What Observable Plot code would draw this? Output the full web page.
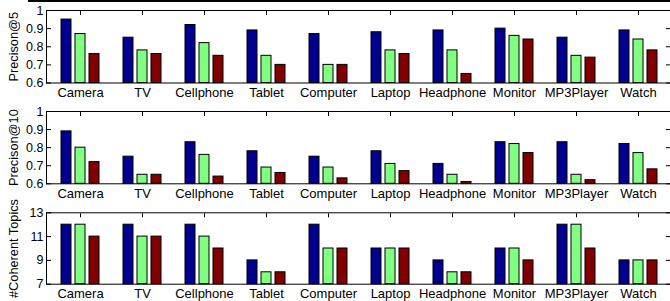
<!DOCTYPE html>
<html><head><meta charset="utf-8">
<script src="https://cdn.jsdelivr.net/npm/d3@7"></script>
<script src="https://cdn.jsdelivr.net/npm/@observablehq/plot@0.6"></script>
<style>
html,body{margin:0;padding:0;background:#fff;overflow:hidden;width:670px;height:301px}
#topline{position:absolute;left:28px;top:0;width:642px;height:2px;background:#000}
#chart{position:absolute;left:0;top:0;width:671px}
#chart svg{display:block;overflow:visible;background:none}
</style></head><body>
<div id="chart"></div><div id="topline"></div>
<script>
const categories = ["Camera","TV","Cellphone","Tablet","Computer","Laptop","Headphone","Monitor","MP3Player","Watch"];
const series = ["Method 1","Method 2","Method 3"];
const colors = ["#00008F","#80FF80","#800000"];

// Precision@5
const p5_m1 = [0.95,0.85,0.92,0.89,0.87,0.88,0.89,0.90,0.85,0.89];
const p5_m2 = [0.87,0.78,0.82,0.75,0.70,0.78,0.78,0.86,0.75,0.84];
const p5_m3 = [0.76,0.76,0.75,0.70,0.70,0.76,0.65,0.84,0.74,0.78];
// Precision@10
const p10_m1 = [0.89,0.75,0.83,0.78,0.75,0.78,0.71,0.83,0.83,0.82];
const p10_m2 = [0.80,0.65,0.76,0.69,0.69,0.71,0.65,0.82,0.65,0.77];
const p10_m3 = [0.72,0.65,0.64,0.66,0.63,0.67,0.61,0.77,0.62,0.68];
// #Coherent Topics
const ct_m1 = [12,12,12,9,12,10,9,10,12,9];
const ct_m2 = [12,11,11,8,10,10,8,10,12,9];
const ct_m3 = [11,11,10,8,10,10,8,9,10,9];

const precTicks = [0.6,0.7,0.8,0.9,1];
const precTickLabels = ["0.6","0.7","0.8","0.9","1"];
const topicTicks = [7,9,11,13];
const topicTickLabels = ["7","9","11","13"];

function panel({values, yDomain, ticks, tickLabels, yLabel, height, marginTop, marginBottom}) {
  const rows = [];
  series.forEach((s, si) => categories.forEach((c, ci) => rows.push({category: c, series: s, si, value: values[si][ci]})));
  const offsets = [-14, 0, 14];
  const fmt = d => tickLabels[ticks.indexOf(d)];
  return Plot.plot({
    width: 671, height, marginLeft: 46, marginRight: 0, marginTop, marginBottom,
    style: {fontFamily: "'Liberation Sans', Arial, sans-serif", fontSize: "12.5px", color: "#000", background: "none", overflow: "visible"},
    x: {domain: categories, padding: 0, axis: null},
    y: {domain: yDomain, axis: null},
    marks: [
      ...series.map((s, si) => Plot.barY(rows.filter(r => r.si === si), {
        x: "category", y1: yDomain[0], y2: "value", fill: colors[si],
        stroke: "black", strokeWidth: 1, dx: offsets[si], insetLeft: 26, insetRight: 26
      })),
      Plot.axisX({anchor: "bottom", tickSize: 0, tickPadding: 5, label: null, fontSize: 13}),
      Plot.axisX({anchor: "top", tickSize: -4, tickFormat: () => "", label: null}),
      Plot.axisY(ticks, {anchor: "left", tickSize: 0, tickPadding: 3, tickFormat: fmt, label: null, fontSize: 12.5}),
      Plot.axisY(ticks, {anchor: "left", tickSize: -5, tickFormat: () => "", label: null}),
      Plot.axisY(ticks, {anchor: "right", tickSize: -6, tickFormat: () => "", label: null}),
      Plot.text([yLabel], {frameAnchor: "left", rotate: -90, dx: -33, fontSize: 12.75, textAnchor: "middle", lineAnchor: "middle", fill: "black"}),
      Plot.frame({stroke: "black"})
    ]
  });
}

const chart = document.getElementById("chart");
chart.append(panel({values: [p5_m1, p5_m2, p5_m3], yDomain: [0.6, 1], ticks: precTicks, tickLabels: precTickLabels, yLabel: "Precison@5", height: 100, marginTop: 10, marginBottom: 17.5}));
chart.append(panel({values: [p10_m1, p10_m2, p10_m3], yDomain: [0.6, 1], ticks: precTicks, tickLabels: precTickLabels, yLabel: "Precison@10", height: 101, marginTop: 11, marginBottom: 17.7}));
chart.append(panel({values: [ct_m1, ct_m2, ct_m3], yDomain: [7, 13], ticks: topicTicks, tickLabels: topicTickLabels, yLabel: "#Coherent Topics", height: 100, marginTop: 11.3, marginBottom: 17.3}));
</script>
</body></html>
